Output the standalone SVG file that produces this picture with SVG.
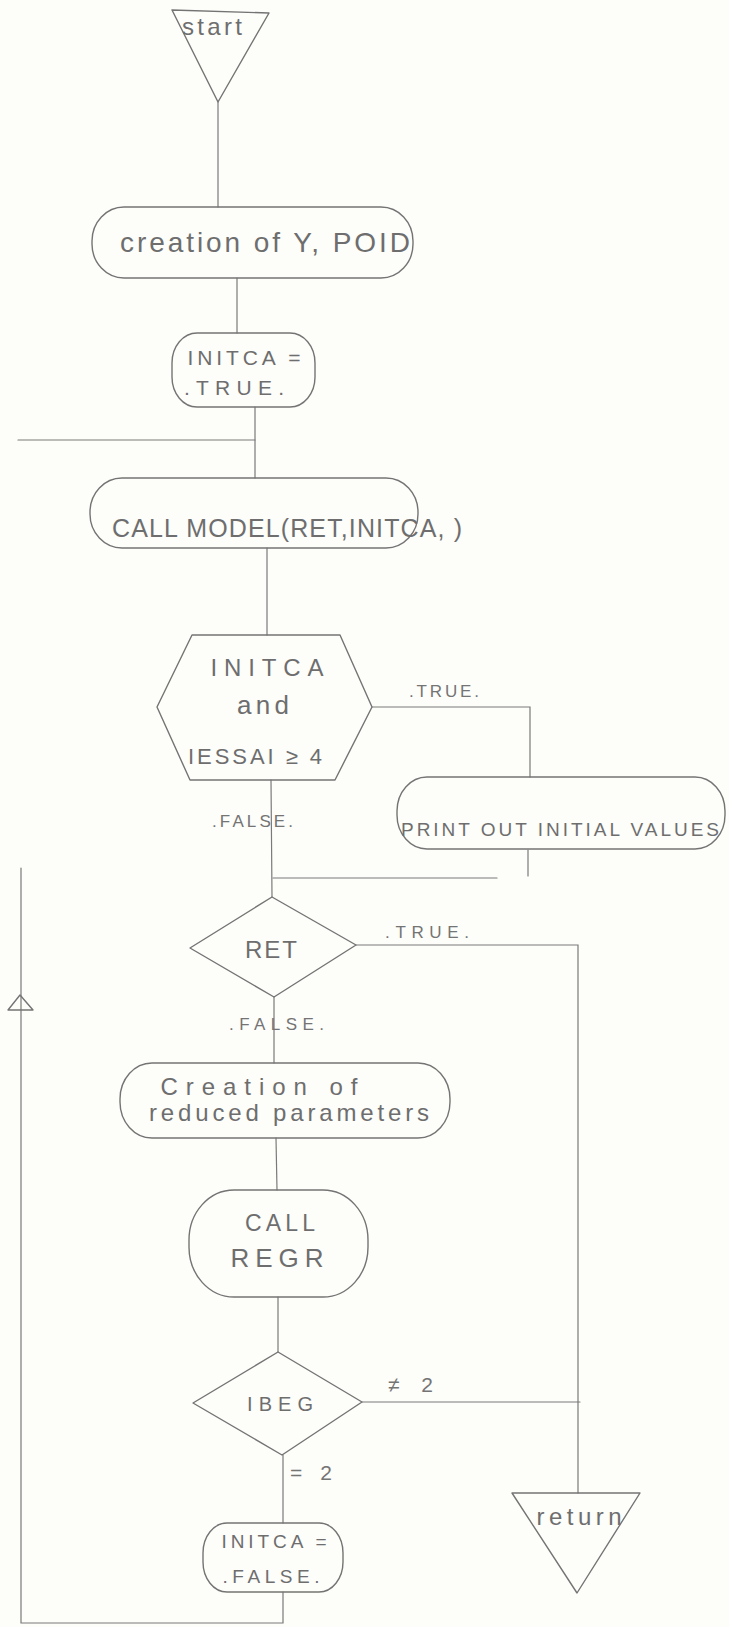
<svg xmlns="http://www.w3.org/2000/svg" width="729" height="1627" viewBox="0 0 729 1627">
<style>
.s{fill:none;stroke:#747474;stroke-width:1.4;stroke-linecap:round;stroke-linejoin:round}
.c{fill:none;stroke:#7a7a7a;stroke-width:1.2;stroke-linecap:round}
.t{font-family:"Liberation Sans",Arial,sans-serif;fill:#6e6e6e;text-anchor:middle}
.l{font-family:"Liberation Sans",Arial,sans-serif;fill:#747474;text-anchor:start;font-size:17px}
</style>
<rect width="729" height="1627" fill="#fdfdfa"/>
<g id="connectors">
<line class="c" x1="218" y1="102" x2="218" y2="207"/>
<line class="c" x1="237" y1="278" x2="237" y2="333"/>
<line class="c" x1="255" y1="407" x2="255" y2="478"/>
<line class="c" x1="18" y1="440" x2="255" y2="440"/>
<line class="c" x1="267" y1="548" x2="267" y2="635"/>
<polyline class="c" points="372,707 530,707 530,777"/>
<line class="c" x1="271" y1="780" x2="272" y2="897"/>
<line class="c" x1="528" y1="850" x2="528" y2="876"/>
<line class="c" x1="273" y1="878" x2="497" y2="878"/>
<polyline class="c" points="356,945 578,945 578,1493"/>
<line class="c" x1="274" y1="997" x2="274" y2="1063"/>
<line class="c" x1="276" y1="1138" x2="277" y2="1190"/>
<line class="c" x1="278" y1="1297" x2="278" y2="1352"/>
<line class="c" x1="362" y1="1402" x2="580" y2="1402"/>
<line class="c" x1="283" y1="1455" x2="283" y2="1523"/>
<polyline class="c" points="283,1592 283,1623 21,1623 21,868"/>
<polygon class="s" points="8,1010 33,1010 20,995"/>
<text class="l" x="409" y="697" textLength="70">.TRUE.</text>
<text class="l" x="212" y="827" textLength="81">.FALSE.</text>
<text class="l" x="385" y="938" textLength="84">.TRUE.</text>
<text class="l" x="229" y="1030" textLength="95">.FALSE.</text>
<text class="l" x="388" y="1392" style="font-size:21px" textLength="45">≠2</text>
<text class="l" x="290" y="1480" style="font-size:21px" textLength="42">=2</text>
</g>
<g id="start">
<polygon class="s" points="172,10 269,13 218,102"/>
<text class="t" x="212" y="35" font-size="24" textLength="60">start</text>
</g>
<g id="creation">
<rect class="s" x="92" y="207" width="321" height="71" rx="32" ry="34"/>
<text class="t" x="265" y="252" font-size="28" textLength="290">creation of Y, POID</text>
</g>
<g id="initca-true">
<rect class="s" x="172" y="333" width="143" height="74" rx="25" ry="30"/>
<text class="t" x="244" y="365" font-size="21" textLength="113">INITCA =</text>
<text class="t" x="234" y="395" font-size="21" textLength="100">.TRUE.</text>
</g>
<g id="call-model">
<rect class="s" x="90" y="478" width="328" height="70" rx="32" ry="34"/>
<text class="t" x="287" y="537" font-size="25" textLength="350">CALL MODEL(RET,INITCA, )</text>
</g>
<g id="test-initca">
<polygon class="s" points="192,635 340,635 372,707 335,780 190,780 157,707"/>
<text class="t" x="267" y="676" font-size="24" textLength="113">INITCA</text>
<text class="t" x="263" y="714" font-size="26" textLength="52">and</text>
<text class="t" x="255" y="764" font-size="22" textLength="134">IESSAI ≥ 4</text>
</g>
<g id="print">
<rect class="s" x="397" y="777" width="328" height="72" rx="30" ry="34"/>
<text class="t" x="560" y="836" font-size="19" textLength="318">PRINT OUT INITIAL VALUES</text>
</g>
<g id="ret">
<polygon class="s" points="272,897 356,945 274,997 190,948"/>
<text class="t" x="271" y="958" font-size="24" textLength="52">RET</text>
</g>
<g id="reduced">
<rect class="s" x="120" y="1063" width="330" height="75" rx="32" ry="36"/>
<text class="t" x="259" y="1095" font-size="24" textLength="197">Creation of</text>
<text class="t" x="289" y="1121" font-size="24" textLength="280">reduced parameters</text>
</g>
<g id="call-regr">
<rect class="s" x="189" y="1190" width="179" height="107" rx="45" ry="50"/>
<text class="t" x="280" y="1231" font-size="23" textLength="70">CALL</text>
<text class="t" x="277" y="1267" font-size="26" textLength="93">REGR</text>
</g>
<g id="ibeg">
<polygon class="s" points="278,1352 362,1402 282,1455 193,1403"/>
<text class="t" x="280" y="1411" font-size="20" textLength="66">IBEG</text>
</g>
<g id="initca-false">
<rect class="s" x="203" y="1523" width="140" height="69" rx="24" ry="30"/>
<text class="t" x="274" y="1548" font-size="19" textLength="105">INITCA =</text>
<text class="t" x="271" y="1583" font-size="19" textLength="97">.FALSE.</text>
</g>
<g id="return">
<polygon class="s" points="512,1493 640,1493 577,1593"/>
<text class="t" x="579" y="1525" font-size="24" textLength="85">return</text>
</g>
</svg>
